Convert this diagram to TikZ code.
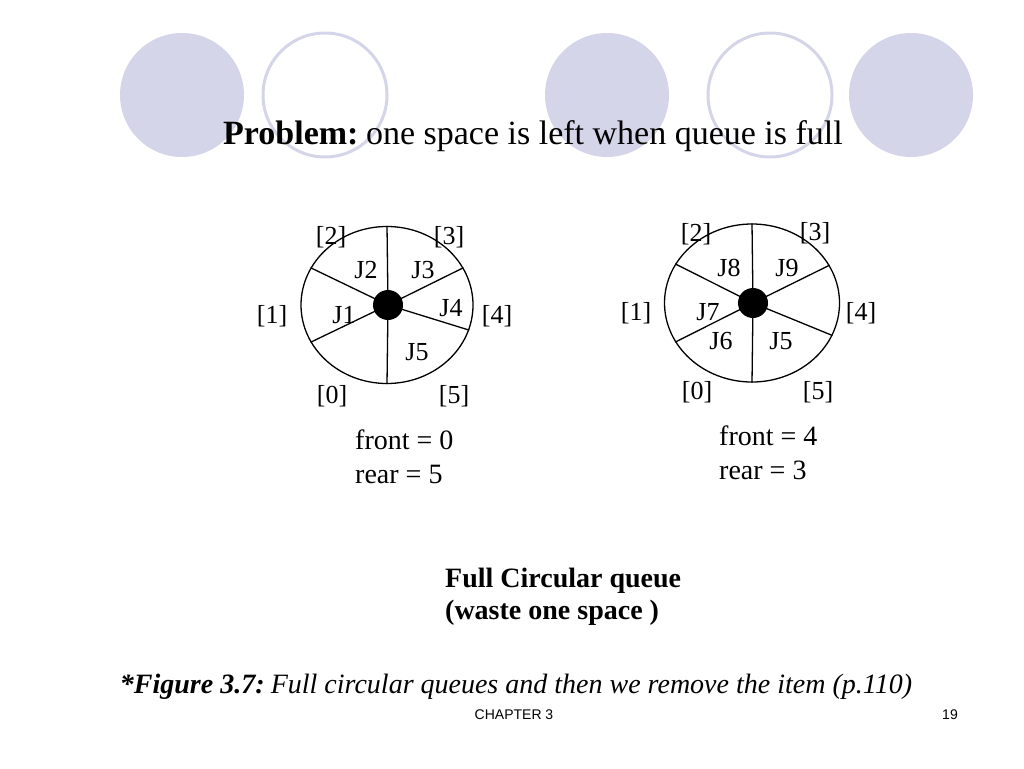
\documentclass[tikz,border=0pt]{standalone}
\usepackage{fontspec}
\setmainfont{Liberation Serif}
\setsansfont{Liberation Sans}
\usetikzlibrary{shapes.geometric}
\definecolor{lav}{RGB}{213,213,234}
\tikzset{
  deco/.style={circle,minimum size=124pt,inner sep=0pt},
  decofill/.style={deco,fill=lav},
  decoring/.style={deco,draw=lav,line width=3pt},
  ring/.style={ellipse,draw,line width=1.3pt,inner sep=0pt},
  hub/.style={circle,fill=black,minimum size=30pt,inner sep=0pt},
  spoke/.style={line width=1.3pt},
  lbl/.style={font=\fontsize{26}{30}\selectfont,inner sep=0pt},
  txt/.style={font=\fontsize{28}{32}\selectfont,inner sep=0pt,anchor=base west},
}
\begin{document}
\begin{tikzpicture}[x=1pt,y=-1pt]
\useasboundingbox[fill=white] (0,0) rectangle (1024,768);
% decorative circles
\node[decofill] (d1) at (182,95) {};
\node[decoring] (d2) at (325,95) {};
\node[decofill] (d3) at (607,95) {};
\node[decoring] (d4) at (770,95) {};
\node[decofill] (d5) at (911,95) {};
% title
\node[inner sep=0pt,anchor=base,font=\fontsize{34}{40}\selectfont] (title) at (533,144) {\textbf{Problem:}\hspace{0.22em}one space is left when queue is full};
% left queue
\node[ring,minimum width=172pt,minimum height=157pt] (L) at (387,305) {};
\node[hub] (Lh) at (388,305) {};
\foreach \a in {90,154,206,270,-17,26}
  \draw[spoke] (Lh.center) -- (L.\a);
\node[lbl] (L2) at (331,237) {[2]};
\node[lbl] (L3) at (449,237) {[3]};
\node[lbl] (L1) at (272,316) {[1]};
\node[lbl] (L4) at (497,316) {[4]};
\node[lbl] (L0) at (332,396) {[0]};
\node[lbl] (L5) at (454,396) {[5]};
\node[lbl] (LJ2) at (366,270) {J2};
\node[lbl] (LJ3) at (423,270) {J3};
\node[lbl] (LJ1) at (344,315) {J1};
\node[lbl] (LJ4) at (451,308) {J4};
\node[lbl] (LJ5) at (417,352) {J5};
\node[txt] (Lf) at (355,449) {front = 0};
\node[txt] (Lr) at (355,483) {rear = 5};
% right queue
\node[ring,minimum width=175pt,minimum height=158pt] (R) at (752,303) {};
\node[hub] (Rh) at (753,303) {};
\foreach \a in {90,153,207,270,-22,26}
  \draw[spoke] (Rh.center) -- (R.\a);
\node[lbl] (R2) at (696,234) {[2]};
\node[lbl] (R3) at (815,233) {[3]};
\node[lbl] (R1) at (636,313) {[1]};
\node[lbl] (R4) at (861,313) {[4]};
\node[lbl] (R0) at (697,392) {[0]};
\node[lbl] (R5) at (818,392) {[5]};
\node[lbl] (RJ8) at (729,268) {J8};
\node[lbl] (RJ9) at (787,268) {J9};
\node[lbl] (RJ7) at (708,312) {J7};
\node[lbl] (RJ6) at (721,341) {J6};
\node[lbl] (RJ5) at (781,341) {J5};
\node[txt] (Rf) at (719,445) {front = 4};
\node[txt] (Rr) at (719,479) {rear = 3};
% captions
\node[txt,font=\fontsize{28}{32}\selectfont\bfseries] (full) at (445,587) {Full Circular queue};
\node[txt,font=\fontsize{28}{32}\selectfont\bfseries] (waste) at (445,619) {(waste one space )};
\node[inner sep=0pt,anchor=base,font=\fontsize{28}{32}\selectfont\itshape] (fig) at (516,693) {\textbf{*Figure 3.7:}\hspace{0.22em}Full circular queues and then we remove the item (p.110)};
\node[inner sep=0pt,anchor=base,font=\sffamily\fontsize{14}{16}\selectfont] (ch) at (514,719) {CHAPTER 3};
\node[inner sep=0pt,anchor=base,font=\sffamily\fontsize{14}{16}\selectfont] (pg) at (950,719) {19};
\end{tikzpicture}
\end{document}
